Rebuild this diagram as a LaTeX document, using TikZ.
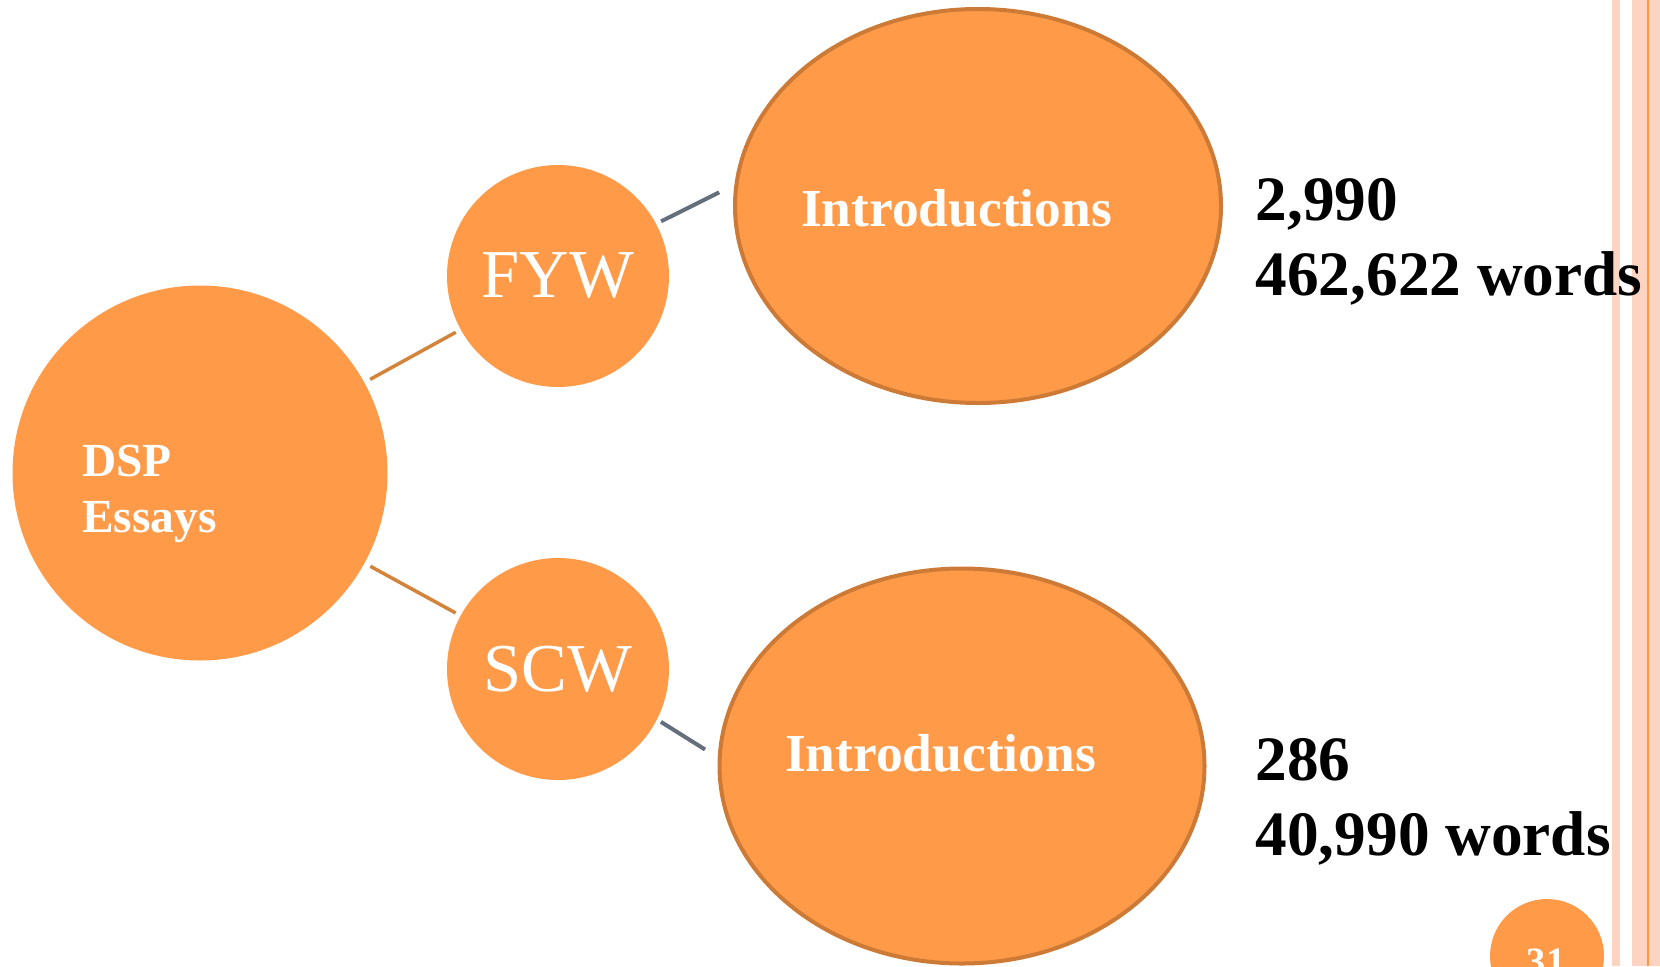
\documentclass[tikz,border=0pt]{standalone}
\usepackage{fontspec}
\setmainfont{Liberation Serif}
\usetikzlibrary{shapes.geometric}
\definecolor{bubblefill}{RGB}{255,154,72}
\definecolor{ovalline}{RGB}{204,122,54}
\definecolor{linkorange}{RGB}{211,132,58}
\definecolor{linkgrey}{RGB}{100,110,125}
\definecolor{stripe}{RGB}{253,211,193}
\definecolor{stripeline}{RGB}{255,150,70}
\tikzset{
  bubble/.style={circle, fill=bubblefill, inner sep=0pt, text=white},
  oval/.style={ellipse, fill=bubblefill, draw=ovalline, line width=0.04cm, inner sep=0pt},
  link/.style={line width=0.035cm, draw=linkorange},
  greylink/.style={line width=0.04cm, draw=linkgrey},
  whitetext/.style={text=white, inner sep=0pt},
  count/.style={inner sep=0pt, anchor=base west, align=left}
}
\begin{document}
\begin{tikzpicture}
\useasboundingbox (0,0) rectangle (16.6,9.66);
\clip (0,0) rectangle (16.6,9.66);
% Side stripes
\fill[stripe] (16.12,0) rectangle (16.20,9.66);
\fill[stripe] (16.32,0) rectangle (16.60,9.66);
\draw[stripeline, line width=0.02cm] (16.48,0) -- (16.48,9.66);
% Bubbles
\node (dsp) at (2.00,4.93) [bubble, minimum size=3.75cm] {};
\node (dsptext) at (0.815,4.34) [whitetext, count, font=\bfseries\fontsize{13.5}{15.85}\selectfont] {DSP\\Essays};
\node (fyw) at (5.58,6.90) [bubble, minimum size=2.22cm, font=\fontsize{19.5}{23}\selectfont] {FYW};
\node (scw) at (5.58,2.97) [bubble, minimum size=2.22cm, font=\fontsize{19.5}{23}\selectfont] {SCW};
\node (introA) at (9.78,7.60) [oval, minimum width=4.86cm, minimum height=3.94cm] {};
\node (introB) at (9.62,2.00) [oval, minimum width=4.85cm, minimum height=3.95cm] {};
\node (introAtext) at ([shift={(-0.215,-0.02)}]introA.center) [whitetext, font=\bfseries\fontsize{15.2}{18}\selectfont] {Introductions};
\node (introBtext) at ([shift={(-0.215,0.13)}]introB.center) [whitetext, font=\bfseries\fontsize{15.2}{18}\selectfont] {Introductions};
% Connectors
\draw[link, shorten <=0.06cm, shorten >=0.05cm] (dsp) -- (fyw);
\draw[link, shorten <=0.06cm, shorten >=0.05cm] (dsp) -- (scw);
\draw[greylink, shorten <=0.05cm, shorten >=0.17cm] (fyw.28) -- (introA.175);
\draw[greylink, shorten <=0.04cm, shorten >=0.15cm] (scw.-27.3) -- (introB.178.5);
% Counts
\node (countA) at (12.55,6.71) [count, font=\bfseries\fontsize{18}{21.3}\selectfont] {2,990\\462,622 words};
\node (countB) at (12.55,1.11) [count, font=\bfseries\fontsize{18}{21.3}\selectfont] {286\\40,990 words};
% Page number
\node (pagedot) at (15.47,0.10) [bubble, minimum size=1.14cm] {};
\node (pagenum) at (15.46,-0.08) [whitetext, anchor=base, font=\bfseries\fontsize{11}{13}\selectfont] {31};
\end{tikzpicture}
\end{document}
